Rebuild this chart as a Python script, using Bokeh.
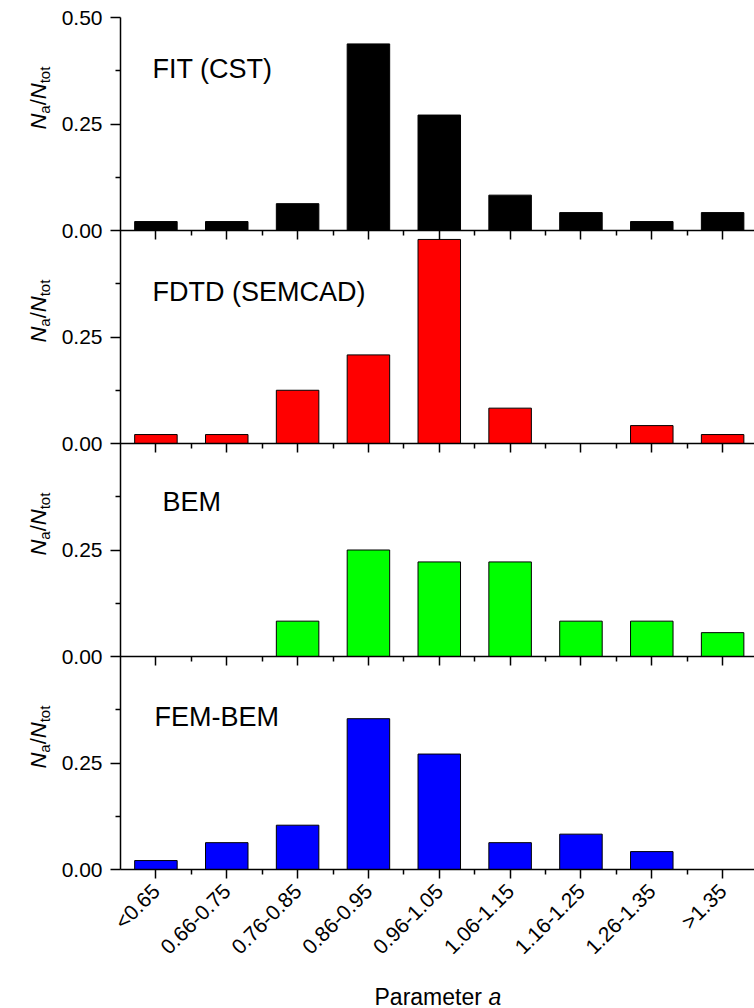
import math
from bokeh.plotting import figure
from bokeh.models import Range1d, LinearAxis, FixedTicker, Label
from bokeh.embed import file_html
from bokeh.resources import INLINE

# ---------------- data ----------------
categories = ["<0.65", "0.66-0.75", "0.76-0.85", "0.86-0.95", "0.96-1.05",
              "1.06-1.15", "1.16-1.25", "1.26-1.35", ">1.35"]
fit_cst = [0.021, 0.021, 0.063, 0.438, 0.271, 0.083, 0.042, 0.021, 0.042]
fdtd_semcad = [0.021, 0.021, 0.125, 0.208, 0.479, 0.083, 0.0, 0.042, 0.021]
bem = [0.0, 0.0, 0.083, 0.250, 0.222, 0.222, 0.083, 0.083, 0.056]
fem_bem = [0.021, 0.063, 0.104, 0.354, 0.271, 0.063, 0.083, 0.042, 0.0]
panel_names = ["FIT (CST)", "FDTD (SEMCAD)", "BEM", "FEM-BEM"]
panel_colors = ["#000000", "#FF0000", "#00FF00", "#0000FF"]
y_tick_values = [0.0, 0.25]
y_tick_labels = ["0.00", "0.25"]
top_tick_label = "0.50"
x_title = "Parameter"
x_title_var = "a"

series = [fit_cst, fdtd_semcad, bem, fem_bem]

# ---------------- layout ----------------
FONT = "Liberation Sans"
SPAN = 0.5           # each panel spans 0..0.5
N = len(series)
W, H = 754, 1008
X0, X1 = 0.5, 9.45           # axis extent in data units
LEFT_PX, TOP_PX, ZERO_PX = 120, 17, 869
ppx = (W - LEFT_PX) / (X1 - X0)
ppy = (ZERO_PX - TOP_PX) / (N * SPAN)
x_start = X0 - LEFT_PX / ppx
y_start = -(H - ZERO_PX) / ppy
y_end = N * SPAN + TOP_PX / ppy

def px_x(px):
    return x_start + px / ppx

def px_y(py):
    return y_end - py / ppy

p = figure(width=W, height=H, x_range=Range1d(x_start, X1),
           y_range=Range1d(y_start, y_end),
           output_backend="svg", toolbar_location=None,
           x_axis_location=None, y_axis_location=None,
           min_border=0, min_border_left=0, min_border_right=0,
           min_border_top=0, min_border_bottom=0)
p.outline_line_color = None
p.grid.visible = False
p.background_fill_color = "white"
p.border_fill_color = "white"

xs = list(range(1, len(categories) + 1))
x_minor = [x + 0.5 for x in xs[:-1]]

# y axis: repeated 0.00 / 0.25 per panel, 0.50 at top
yt, ylab = [], {}
for k in range(N):
    base = k * SPAN
    for v, lab in zip(y_tick_values, y_tick_labels):
        yt.append(base + v)
        ylab[base + v] = lab
yt.append(N * SPAN)
ylab[N * SPAN] = top_tick_label
ymin = [t + 0.125 for t in yt[:-1]]

ya = LinearAxis(fixed_location=X0, bounds=(0, N * SPAN),
                ticker=FixedTicker(ticks=yt, minor_ticks=ymin),
                major_label_overrides=ylab,
                axis_line_width=1.5, major_tick_line_width=1.5,
                minor_tick_line_width=1.5,
                major_tick_out=10, major_tick_in=0,
                minor_tick_out=5, minor_tick_in=0,
                major_label_standoff=8,
                major_label_text_font=FONT,
                major_label_text_font_size="21px",
                major_label_text_color="black")
p.add_layout(ya, "left")

xa = LinearAxis(fixed_location=0, bounds=(X0, X1),
                ticker=FixedTicker(ticks=xs, minor_ticks=x_minor),
                major_label_overrides={x: c for x, c in zip(xs, categories)},
                major_label_orientation=math.pi / 4,
                axis_line_width=1.5, major_tick_line_width=1.5,
                minor_tick_line_width=1.5,
                major_tick_out=9, major_tick_in=0,
                minor_tick_out=5, minor_tick_in=0,
                major_label_standoff=9,
                major_label_text_font=FONT,
                major_label_text_font_size="21px",
                major_label_text_color="black")
p.add_layout(xa, "below")

# panel separators: axes at panel boundaries, ticks pointing down
for k in range(1, N):
    sep = LinearAxis(fixed_location=k * SPAN, bounds=(X0, X1),
                     ticker=FixedTicker(ticks=xs, minor_ticks=x_minor),
                     major_label_overrides={x: "" for x in xs},
                     major_label_standoff=0,
                     major_tick_out=0, minor_tick_out=0,
                     major_tick_in=9, minor_tick_in=5,
                     axis_line_width=1.5, major_tick_line_width=1.5,
                     minor_tick_line_width=1.5)
    p.add_layout(sep, "above")

# bars and annotations
title_pos = [(152, 0.380), (152, 0.355), (162, 0.362), (154, 0.359)]
for i, (vals, name, col) in enumerate(zip(series, panel_names, panel_colors)):
    base = (N - 1 - i) * SPAN
    bx = [x for x, v in zip(xs, vals) if v > 0]
    bt = [base + v for v in vals if v > 0]
    p.vbar(x=bx, width=0.6, bottom=base, top=bt, fill_color=col,
           line_color="black", line_width=1)

    tx, ty = title_pos[i]
    p.add_layout(Label(x=px_x(tx), y=base + ty, text=name, text_font=FONT,
                       text_font_size="27px", text_baseline="alphabetic",
                       text_align="left", text_color="black"))

    # y axis label  N_a / N_tot  (rotated)
    y0 = base + 0.237
    pieces = [("N", 22, "italic", 0.0, 38),
              ("a", 15, "normal", 15.9, 44),
              ("/", 22, "normal", 24.2, 38),
              ("N", 22, "italic", 30.3, 38),
              ("tot", 15, "normal", 46.2, 44)]
    for txt, fs, st, off, bxp in pieces:
        p.add_layout(Label(x=px_x(bxp), y=y0, y_offset=off, text=txt,
                           angle=math.pi / 2, text_font=FONT,
                           text_font_size=f"{fs}px", text_font_style=st,
                           text_align="left", text_baseline="alphabetic",
                           text_color="black"))

# x axis title "Parameter a"
p.add_layout(Label(x=px_x(374), y=px_y(996), text=x_title, text_font=FONT,
                   text_font_size="23px", text_align="left",
                   text_baseline="alphabetic", text_color="black"))
p.add_layout(Label(x=px_x(488), y=px_y(996), text=x_title_var, text_font=FONT,
                   text_font_size="23px", text_font_style="italic",
                   text_align="left", text_baseline="alphabetic",
                   text_color="black"))

open("out.html", "w").write(file_html(p, INLINE))
